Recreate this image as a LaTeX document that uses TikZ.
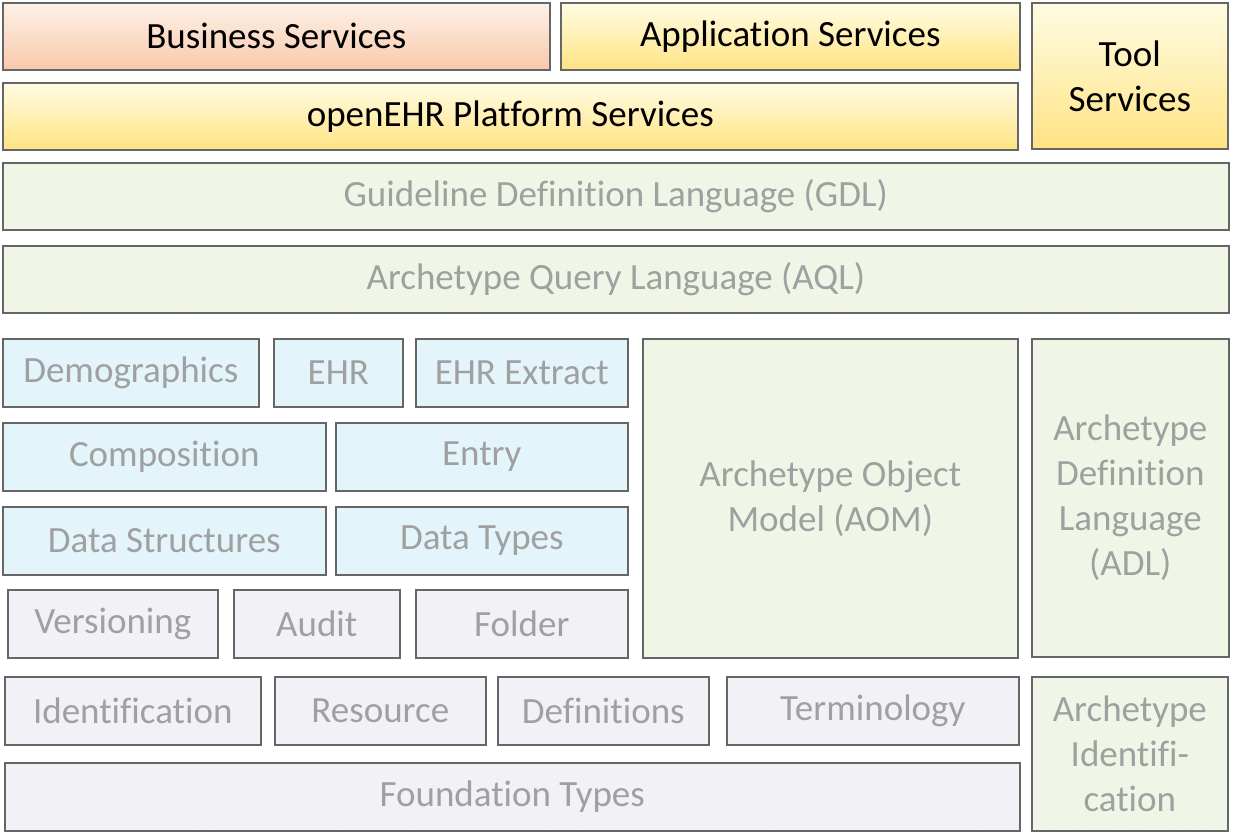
\documentclass[tikz,border=0pt]{standalone}
\usepackage{fontspec}
\setmainfont{Carlito}[Ligatures=NoCommon]
\usetikzlibrary{patterns.meta}
\definecolor{bord}{HTML}{666666}
\definecolor{greytxt}{HTML}{A0A0A0}
\definecolor{bluefill}{HTML}{E3F5FB}
\definecolor{lavfill}{HTML}{F3F1F8}
\definecolor{greenfill}{HTML}{EFF6E6}
\definecolor{peachtop}{HTML}{FDF1E8}
\definecolor{peachbot}{HTML}{F9C9AA}
\definecolor{yeltop}{HTML}{FFFCE4}
\definecolor{yelbot}{HTML}{FFE383}
\tikzset{
  box/.style={draw=bord, line width=1.6pt, inner sep=0pt, anchor=north west,
    font=\fontsize{37}{45}\selectfont, align=center},
  hatched/.style 2 args={preaction={fill=#1},
    preaction={pattern={Lines[angle=60,distance=7pt,line width=0.5pt]}, pattern color=#2}},
  bluebox/.style={box, fill=bluefill, text=greytxt},
  lavbox/.style={box, hatched={lavfill}{black!5}, text=greytxt},
  greenbox/.style={box, hatched={greenfill}{black!4}, text=greytxt},
  peachbox/.style={box, top color=peachtop, bottom color=peachbot, text=black},
  yelbox/.style={box, top color=yeltop, bottom color=yelbot, text=black},
}
\newcommand{\bx}[7]{% style, name, x1, y1, x2, y2, text
  \node[#1, minimum width={(#5-#3)*1pt}, minimum height={(#6-#4)*1pt}] (#2) at (#3,#4) {#7};}
\begin{document}
\begin{tikzpicture}[x=1pt,y=-1pt]
\useasboundingbox (0,0) rectangle (1236,837);
\bx{peachbox}{bus}{2}{2}{549}{69}{Business Services}
\bx{yelbox}{app}{560}{2}{1019}{69}{Application Services}
\bx{yelbox}{plat}{2}{82}{1017}{149}{openEHR Platform Services}
\bx{yelbox}{tool}{1031}{2}{1227}{148}{Tool\\Services}
\bx{greenbox}{gdl}{2}{162}{1228}{229}{Guideline Definition Language (GDL)}
\bx{greenbox}{aql}{2}{245}{1228}{312}{Archetype Query Language (AQL)}
\bx{bluebox}{demo}{2}{338}{258}{406}{Demographics}
\bx{bluebox}{ehr}{273}{338}{402}{406}{EHR}
\bx{bluebox}{ehrx}{415}{338}{627}{406}{EHR Extract}
\bx{bluebox}{comp}{2}{422}{325}{490}{Composition}
\bx{bluebox}{entry}{335}{422}{627}{490}{Entry}
\bx{bluebox}{dstr}{2}{506}{325}{574}{Data Structures}
\bx{bluebox}{dtyp}{335}{506}{627}{574}{Data Types}
\bx{lavbox}{vers}{7}{589}{217}{657}{Versioning}
\bx{lavbox}{audit}{233}{589}{399}{657}{Audit}
\bx{lavbox}{folder}{415}{589}{627}{657}{Folder}
\bx{greenbox}{aom}{642}{338}{1017}{657}{Archetype Object\\Model (AOM)}
\bx{greenbox}{adl}{1031}{338}{1228}{656}{Archetype\\Definition\\Language\\(ADL)}
\bx{lavbox}{ident}{4}{676}{260}{744}{Identification}
\bx{lavbox}{res}{274}{676}{485}{744}{Resource}
\bx{lavbox}{defs}{497}{676}{708}{744}{Definitions}
\bx{lavbox}{term}{726}{676}{1018}{744}{Terminology}
\bx{lavbox}{found}{4}{762}{1019}{830}{Foundation Types}
\bx{greenbox}{aid}{1031}{676}{1227}{830}{Archetype\\Identifi-\\cation}
\end{tikzpicture}
\end{document}
